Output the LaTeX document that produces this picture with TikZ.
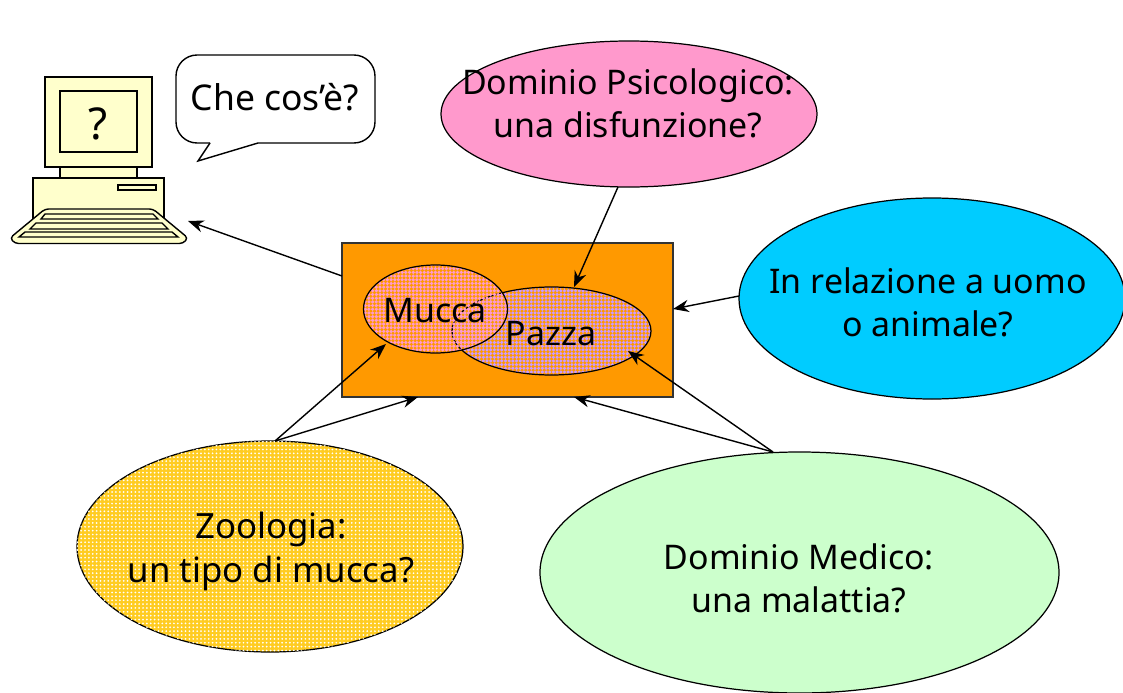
\documentclass[tikz,border=0pt]{standalone}
\usepackage{fontspec}
\setmainfont{Noto Sans}
\usetikzlibrary{shapes.geometric,arrows.meta,patterns.meta}

\definecolor{cream}{HTML}{FFFFCC}
\definecolor{psipink}{HTML}{FF99CC}
\definecolor{relblue}{HTML}{00CCFF}
\definecolor{medgreen}{HTML}{CCFFCC}
\definecolor{boxorange}{HTML}{FF9900}
\definecolor{zoogold}{HTML}{FFCC22}
\definecolor{pazzaviolet}{HTML}{CC99FF}

\begin{document}
\begin{tikzpicture}[
	x=0.02cm, y=-0.02cm,
	blob/.style={ellipse, draw, inner sep=0pt, line width=0.7pt},
	txt/.style={align=center, font=\fontsize{19.3}{24.5}\selectfont},
	pc/.style={draw, fill=cream, line width=0.8pt},
	connect/.style={-{Stealth[length=9pt,width=7pt]}, line width=0.8pt},
	venn/.style={blob, minimum width=#1},
	]
	\useasboundingbox (0,0) rectangle (1123,693);
	
	%-----------------------
	% Computer
	%-----------------------
	\draw[pc] (60,167) rectangle (137,178);
	\draw[pc] (45,77) rectangle (152,167);
	\draw[pc] (60,91) rectangle (137,152);
	\draw[pc] (33,178) rectangle (164,222);
	\draw[pc] (118,185) rectangle (156,190);
	\draw[pc, rounded corners=2pt] (45,209) -- (153,209) -- (188,238) -- (183,243.5) -- (15,243.5) -- (10,238) -- cycle;
	\draw[pc] (45,214) -- (153,214) -- (158,219) -- (41,219) -- cycle;
	\draw[pc] (36,223) -- (162,223) -- (168,229) -- (30,229) -- cycle;
	\draw[pc] (25,232) -- (172,232) -- (178,237) -- (19,237) -- cycle;
	\node[txt, font=\fontsize{25}{30}\selectfont] (screen) at (98,124) {?};
	\coordinate (pcin) at (188,221);
	
	%-----------------------
	% Speech bubble
	%-----------------------
	\draw[line width=0.8pt, fill=white, rounded corners=12pt] (258,143) -- (375,143) -- (375,55) -- (176,55) -- (176,143) -- (210,143);
	\draw[line width=0.8pt] (210,143) -- (198,161) -- (258,143);
	\node[txt, font=\fontsize{20.2}{24.5}\selectfont] (bubble) at (275,97) {Che cos\symbol{39}è?};
	
	%-----------------------
	% Central box
	%-----------------------
	\node[draw=black!80, fill=boxorange, line width=0.8pt, minimum width=331*0.02cm, minimum height=154*0.02cm, inner sep=0pt] (box) at (507.5,320) {};
	\node[venn=199*0.02cm, minimum height=88*0.02cm, pattern={Dots[distance=2.1pt,radius=0.98pt]}, pattern color=pazzaviolet] (pazza) at (551.5,331) {};
	\node[venn=144*0.02cm, minimum height=88*0.02cm, pattern={Dots[distance=2.1pt,radius=1pt]}, pattern color=psipink] (mucca) at (435.5,309) {};
	\node[txt] (muccat) at (435,311) {Mucca};
	\node[txt] (pazzat) at (551,334) {Pazza};
	\coordinate (boxzoo) at (418,397);
	\coordinate (boxmed) at (574,397);
	\coordinate (boxrel) at (673,309);
	\coordinate (boxpc) at (342,276);
	\coordinate (pazzapsi) at (574,287);
	\coordinate (pazzamed) at (628,351);
	\coordinate (muccazoo) at (386,344);
	
	%-----------------------
	% Outer ellipses
	%-----------------------
	\node[blob, fill=psipink, minimum width=376*0.02cm, minimum height=146*0.02cm] (psi) at (629,114) {};
	\node[txt] (psit) at (628,103) {Dominio Psicologico:\\una disfunzione?};
	\node[blob, fill=relblue, minimum width=386*0.02cm, minimum height=201*0.02cm] (rel) at (932,298.5) {};
	\node[txt] (relt) at (928,302) {In relazione a uomo\\o animale?};
	\node[blob, fill=zoogold, postaction={pattern={Dots[distance=2.2pt,radius=0.55pt]}, pattern color=white}, minimum width=386*0.02cm, minimum height=211*0.02cm] (zoo) at (270,546.5) {};
	\node[txt, font=\fontsize{19.8}{25}\selectfont] (zoot) at (271,551) {Zoologia:\\un tipo di mucca?};
	\node[blob, fill=medgreen, minimum width=519*0.02cm, minimum height=241*0.02cm] (med) at (799.5,572.5) {};
	\node[txt] (medt) at (799,578) {Dominio Medico:\\una malattia?};
	
	%-----------------------
	% Connections
	%-----------------------
	\coordinate (psiout) at (618,187);
	\coordinate (relout) at (739,296);
	\coordinate (zooout) at (275,441);
	\coordinate (medout) at (773,452);
	
	\draw[connect] (boxpc) -- (pcin);
	\draw[connect] (psiout) -- (pazzapsi);
	\draw[connect] (relout) -- (boxrel);
	\draw[connect] (zooout) -- (muccazoo);
	\draw[connect] (zooout) -- (boxzoo);
	\draw[connect] (medout) -- (pazzamed);
	\draw[connect] (medout) -- (boxmed);
	
\end{tikzpicture}
\end{document}
